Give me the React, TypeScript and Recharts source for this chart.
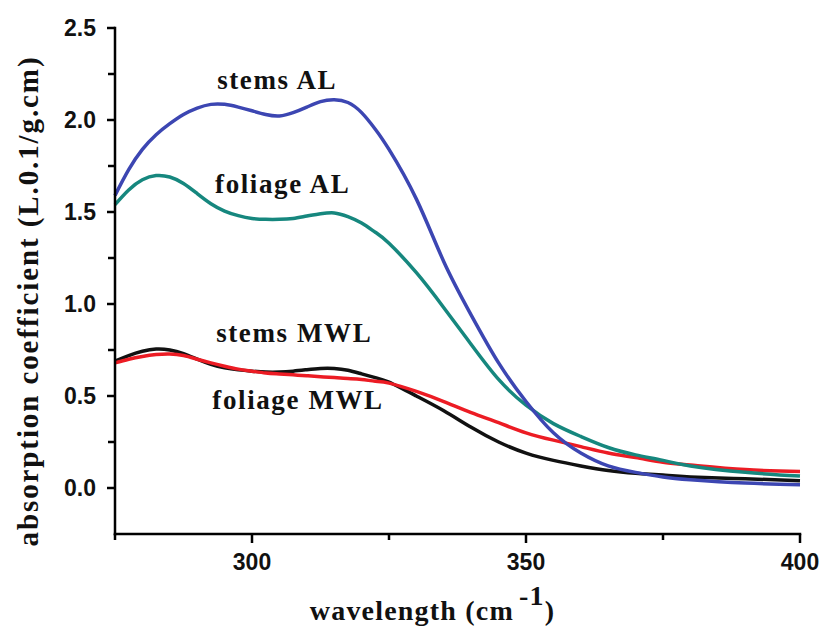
import { LineChart, Line, XAxis, YAxis, ReferenceDot } from "recharts";

const wavelengths = [
  275, 277.5, 280, 282.5, 285, 287.5, 290, 292.5, 295, 297.5, 300, 302.5, 305, 307.5, 310,
  312.5, 315, 317.5, 320, 322.5, 325, 330, 335, 340, 345, 350, 355, 360, 365, 370, 375, 380,
  390, 400,
];

const stemsAL = [
  1.59, 1.73, 1.84, 1.92, 1.98, 2.03, 2.065, 2.085, 2.085, 2.07, 2.05, 2.03, 2.022, 2.04, 2.07,
  2.1, 2.11, 2.095, 2.04, 1.95, 1.84, 1.57, 1.23, 0.94, 0.68, 0.47, 0.3, 0.19, 0.12, 0.085,
  0.06, 0.045, 0.027, 0.018,
];

const foliageAL = [
  1.54, 1.62, 1.675, 1.698, 1.69, 1.655, 1.6, 1.545, 1.505, 1.48, 1.465, 1.46, 1.46, 1.465, 1.478,
  1.49, 1.495, 1.475, 1.44, 1.39, 1.33, 1.17, 0.98, 0.78, 0.59, 0.45, 0.35, 0.28, 0.22, 0.18,
  0.15, 0.12, 0.085, 0.065,
];

const stemsMWL = [
  0.69, 0.72, 0.743, 0.755, 0.75, 0.73, 0.7, 0.672, 0.653, 0.642, 0.635, 0.63, 0.63, 0.635, 0.643,
  0.65, 0.65, 0.64, 0.62, 0.6, 0.575, 0.5, 0.42, 0.33, 0.25, 0.19, 0.15, 0.12, 0.095, 0.08,
  0.07, 0.06, 0.05, 0.04,
];

const foliageMWL = [
  0.68, 0.7, 0.715, 0.725, 0.728, 0.72, 0.7, 0.68, 0.662, 0.646, 0.635, 0.625, 0.62, 0.615, 0.61,
  0.605, 0.6, 0.595, 0.59, 0.58, 0.57, 0.525, 0.47, 0.41, 0.355, 0.3, 0.26, 0.225, 0.19, 0.165,
  0.14, 0.125, 0.1, 0.09,
];

const xTicks = [275, 300, 325, 350, 375, 400];
const yTicks = [0, 0.25, 0.5, 0.75, 1, 1.25, 1.5, 1.75, 2, 2.25, 2.5];

// label anchors in data units (center x, baseline y)
const annotations = [
  { text: "stems AL", x: 304.6, y: 2.168 },
  { text: "foliage AL", x: 305.6, y: 1.603 },
  { text: "stems MWL", x: 307.7, y: 0.793 },
  { text: "foliage MWL", x: 308.4, y: 0.429 },
];

const data = wavelengths.map((w, i) => ({
  wavelength: w,
  stemsAL: stemsAL[i],
  foliageAL: foliageAL[i],
  stemsMWL: stemsMWL[i],
  foliageMWL: foliageMWL[i],
}));

const TICK_SIZE = 8;
const TICK_MARGIN = 12;
const AXIS_STROKE = { stroke: "#000", strokeWidth: 2.5, strokeLinecap: "square" as const };
const SANS = "Liberation Sans, Arial, sans-serif";
const SERIF = "Liberation Serif, Times New Roman, serif";

function YTick(props: any) {
  const { x, y, payload } = props;
  const axisX = x + TICK_SIZE + TICK_MARGIN;
  const major = Math.abs((payload.value * 2) % 1) < 1e-6;
  return (
    <g>
      <line x1={axisX} x2={axisX - (major ? 8 : 7)} y1={y} y2={y} stroke="#000" strokeWidth={2.5} />
      {major && (
        <text x={x + 1} y={y + 8} textAnchor="end" fontFamily={SANS} fontWeight="bold" fontSize={23} fill="#111">
          {payload.value.toFixed(1)}
        </text>
      )}
    </g>
  );
}

function XTick(props: any) {
  const { x, y, payload } = props;
  const axisY = y - TICK_SIZE - TICK_MARGIN;
  const major = payload.value % 50 === 0;
  return (
    <g>
      <line x1={x} x2={x} y1={axisY} y2={axisY + (major ? 9 : 6)} stroke="#000" strokeWidth={2.5} />
      {major && (
        <text x={x} y={y + 16} textAnchor="middle" fontFamily={SANS} fontWeight="bold" fontSize={23} fill="#111">
          {payload.value}
        </text>
      )}
    </g>
  );
}

function YTitle({ viewBox }: any) {
  const cx = viewBox.x + 38;
  const cy = viewBox.y + viewBox.height / 2 + 20;
  return (
    <text
      x={cx}
      y={cy}
      transform={`rotate(-90, ${cx}, ${cy})`}
      textAnchor="middle"
      fontFamily={SERIF}
      fontWeight="bold"
      fontSize={29}
      letterSpacing={1.9}
      fill="#111"
    >
      absorption coefficient (L.0.1/g.cm)
    </text>
  );
}

function XTitle({ viewBox }: any) {
  const cx = viewBox.x + viewBox.width / 2 - 25;
  const by = viewBox.y + 86;
  return (
    <text
      x={cx}
      y={by}
      textAnchor="middle"
      fontFamily={SERIF}
      fontWeight="bold"
      fontSize={28}
      letterSpacing={1.2}
      fill="#111"
    >
      wavelength (cm
      <tspan dx={5} dy={-15}>-1</tspan>
      <tspan dy={15}>)</tspan>
    </text>
  );
}

function AnnotationLabel({ viewBox, value }: any) {
  return (
    <text
      x={viewBox.x + (viewBox.width || 0) / 2}
      y={viewBox.y + (viewBox.height || 0) / 2}
      textAnchor="middle"
      fontFamily={SERIF}
      fontWeight="bold"
      fontSize={27}
      letterSpacing={1.6}
      fill="#111"
    >
      {value}
    </text>
  );
}

export default function App() {
  return (
    <div style={{ position: "absolute", left: 0, top: 0, background: "#fff" }}>
      <LineChart width={820} height={626} data={data} margin={{ top: 28, right: 20, left: 0, bottom: 0 }}>
        <XAxis
          dataKey="wavelength"
          type="number"
          domain={[275, 400]}
          ticks={xTicks}
          height={92}
          tickSize={TICK_SIZE}
          tickMargin={TICK_MARGIN}
          tickLine={false}
          axisLine={AXIS_STROKE}
          tick={<XTick />}
          interval={0}
          label={<XTitle />}
        />
        <YAxis
          type="number"
          domain={[-0.25, 2.5]}
          ticks={yTicks}
          width={115}
          tickSize={TICK_SIZE}
          tickMargin={TICK_MARGIN}
          tickLine={false}
          axisLine={AXIS_STROKE}
          tick={<YTick />}
          interval={0}
          label={<YTitle />}
        />
        <Line type="natural" dataKey="stemsMWL" stroke="#111111" strokeWidth={3.5} dot={false} isAnimationActive={false} />
        <Line type="natural" dataKey="foliageMWL" stroke="#ec1c24" strokeWidth={3.5} dot={false} isAnimationActive={false} />
        <Line type="natural" dataKey="foliageAL" stroke="#16877e" strokeWidth={3.5} dot={false} isAnimationActive={false} />
        <Line type="natural" dataKey="stemsAL" stroke="#3c46b2" strokeWidth={3.5} dot={false} isAnimationActive={false} />
        {annotations.map((a) => (
          <ReferenceDot
            key={a.text}
            x={a.x}
            y={a.y}
            r={0}
            fill="none"
            stroke="none"
            label={<AnnotationLabel value={a.text} />}
          />
        ))}
      </LineChart>
    </div>
  );
}
